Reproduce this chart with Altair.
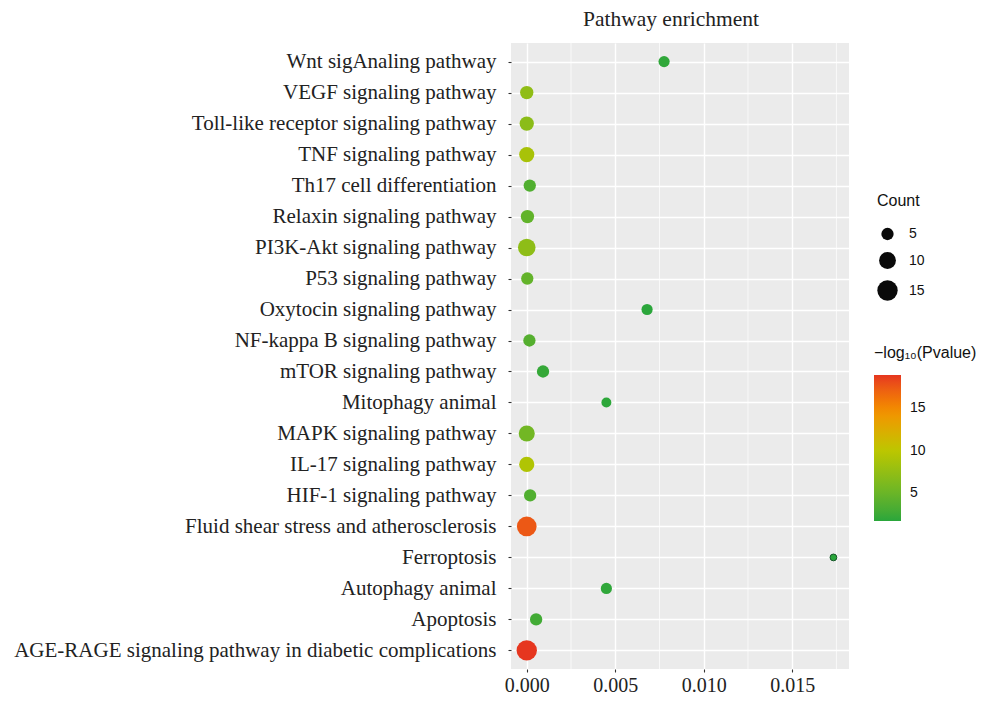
import altair as alt
import pandas as pd

pathways = [
    "Wnt sigAnaling pathway",
    "VEGF signaling pathway",
    "Toll-like receptor signaling pathway",
    "TNF signaling pathway",
    "Th17 cell differentiation",
    "Relaxin signaling pathway",
    "PI3K-Akt signaling pathway",
    "P53 signaling pathway",
    "Oxytocin signaling pathway",
    "NF-kappa B signaling pathway",
    "mTOR signaling pathway",
    "Mitophagy animal",
    "MAPK signaling pathway",
    "IL-17 signaling pathway",
    "HIF-1 signaling pathway",
    "Fluid shear stress and atherosclerosis",
    "Ferroptosis",
    "Autophagy animal",
    "Apoptosis",
    "AGE-RAGE signaling pathway in diabetic complications",
]
ratio = [0.00776, 0.0, 0.0, 0.0, 0.00017, 0.00004, 0.0, 0.00003, 0.0068, 0.00015,
         0.00092, 0.0045, 0.0, 0.0, 0.00019, 0.0, 0.01733, 0.0045, 0.00053, 0.0]
counts = [4, 6, 7, 8, 5, 6, 11, 5, 4, 5, 5, 3, 9, 8, 5, 14, 1, 4, 5, 15]
neglogp = [2.0, 7.3, 7.0, 8.8, 3.6, 4.5, 7.2, 4.6, 1.8, 3.8, 2.2, 1.9, 5.5, 9.3, 3.6,
           17.5, 1.74, 2.0, 2.8, 18.9]
x_ticks = [0.0, 0.005, 0.01, 0.015]
minor_x = [0.0025, 0.0075, 0.0125, 0.0175]

df = pd.DataFrame({"Pathway": pathways, "Ratio": ratio, "Count": counts, "logp": neglogp})
minor = pd.DataFrame({"Ratio": minor_x})

serif = "Liberation Serif"
sans = "Liberation Sans"

xscale = alt.Scale(domain=[-0.00089, 0.01821], nice=False, zero=False)
xaxis = alt.Axis(values=x_ticks, format=".3f", grid=True, gridColor="white",
                 gridWidth=1.4, domain=False, tickColor="#333", tickSize=3,
                 tickWidth=1.1, labelFont=serif, labelFontSize=20,
                 labelColor="#222", labelPadding=3)

rules = alt.Chart(minor).mark_rule(color="white", strokeWidth=0.7).encode(
    x=alt.X("Ratio:Q", scale=xscale, axis=xaxis, title=None)
)

points = alt.Chart(df).mark_circle(opacity=1).encode(
    x=alt.X("Ratio:Q", scale=xscale, title=None, axis=xaxis),
    y=alt.Y("Pathway:N", sort=pathways, title=None,
            scale=alt.Scale(type="point", padding=0.6),
            axis=alt.Axis(grid=True, gridColor="white", gridWidth=1.4, domain=False,
                          tickColor="#333", tickSize=3, tickWidth=1.1,
                          labelFont=serif, labelFontSize=21, labelColor="#222",
                          labelPadding=12, labelLimit=0)),
    size=alt.Size("Count:Q", scale=alt.Scale(domain=[1, 15], range=[46, 415], zero=False),
                  legend=alt.Legend(title="Count", values=[5, 10, 15], orient="none",
                                    legendX=366, legendY=150, titleFont=sans,
                                    titleFontSize=16, titleFontWeight="normal",
                                    titleColor="#111", labelFont=sans, labelFontSize=14,
                                    labelColor="#111", labelOffset=11,
                                    symbolFillColor="#0a0a0a", symbolStrokeWidth=0,
                                    symbolOpacity=1, rowPadding=11, titlePadding=18,
                                    padding=0)),
    color=alt.Color("logp:Q",
                    scale=alt.Scale(domain=[1.74, 10, 14.5, 18.9],
                                    range=["#29A63B", "#BCC600", "#F39200", "#E6361F"]),
                    legend=alt.Legend(title="−log₁₀(Pvalue)", values=[5, 10, 15],
                                      orient="none", legendX=363, legendY=302,
                                      direction="vertical", gradientLength=146,
                                      gradientThickness=27, gradientStrokeWidth=0,
                                      titleFont=sans, titleFontSize=16,
                                      titleFontWeight="normal", titleColor="#111",
                                      labelFont=sans, labelFontSize=14, labelColor="#111",
                                      labelOffset=9, titlePadding=14, padding=0)),
    stroke=alt.condition(alt.datum.Pathway == "Ferroptosis", alt.value("#17572a"),
                         alt.value("transparent")),
    strokeWidth=alt.value(1),
)

chart = alt.layer(rules, points).properties(
    width=338,
    height=626,
    title=alt.TitleParams("Pathway enrichment", font=serif, fontSize=21.5,
                          fontWeight="normal", color="#222", anchor="middle", offset=12,
                          dx=-9),
    autosize=alt.AutoSizeParams(type="none"),
    padding={"left": 503, "top": 35, "right": 130, "bottom": 27},
).configure(background="white").configure_view(fill="#EBEBEB", strokeWidth=0)

chart.save("out.html", embed_options={"renderer": "svg", "actions": False})
